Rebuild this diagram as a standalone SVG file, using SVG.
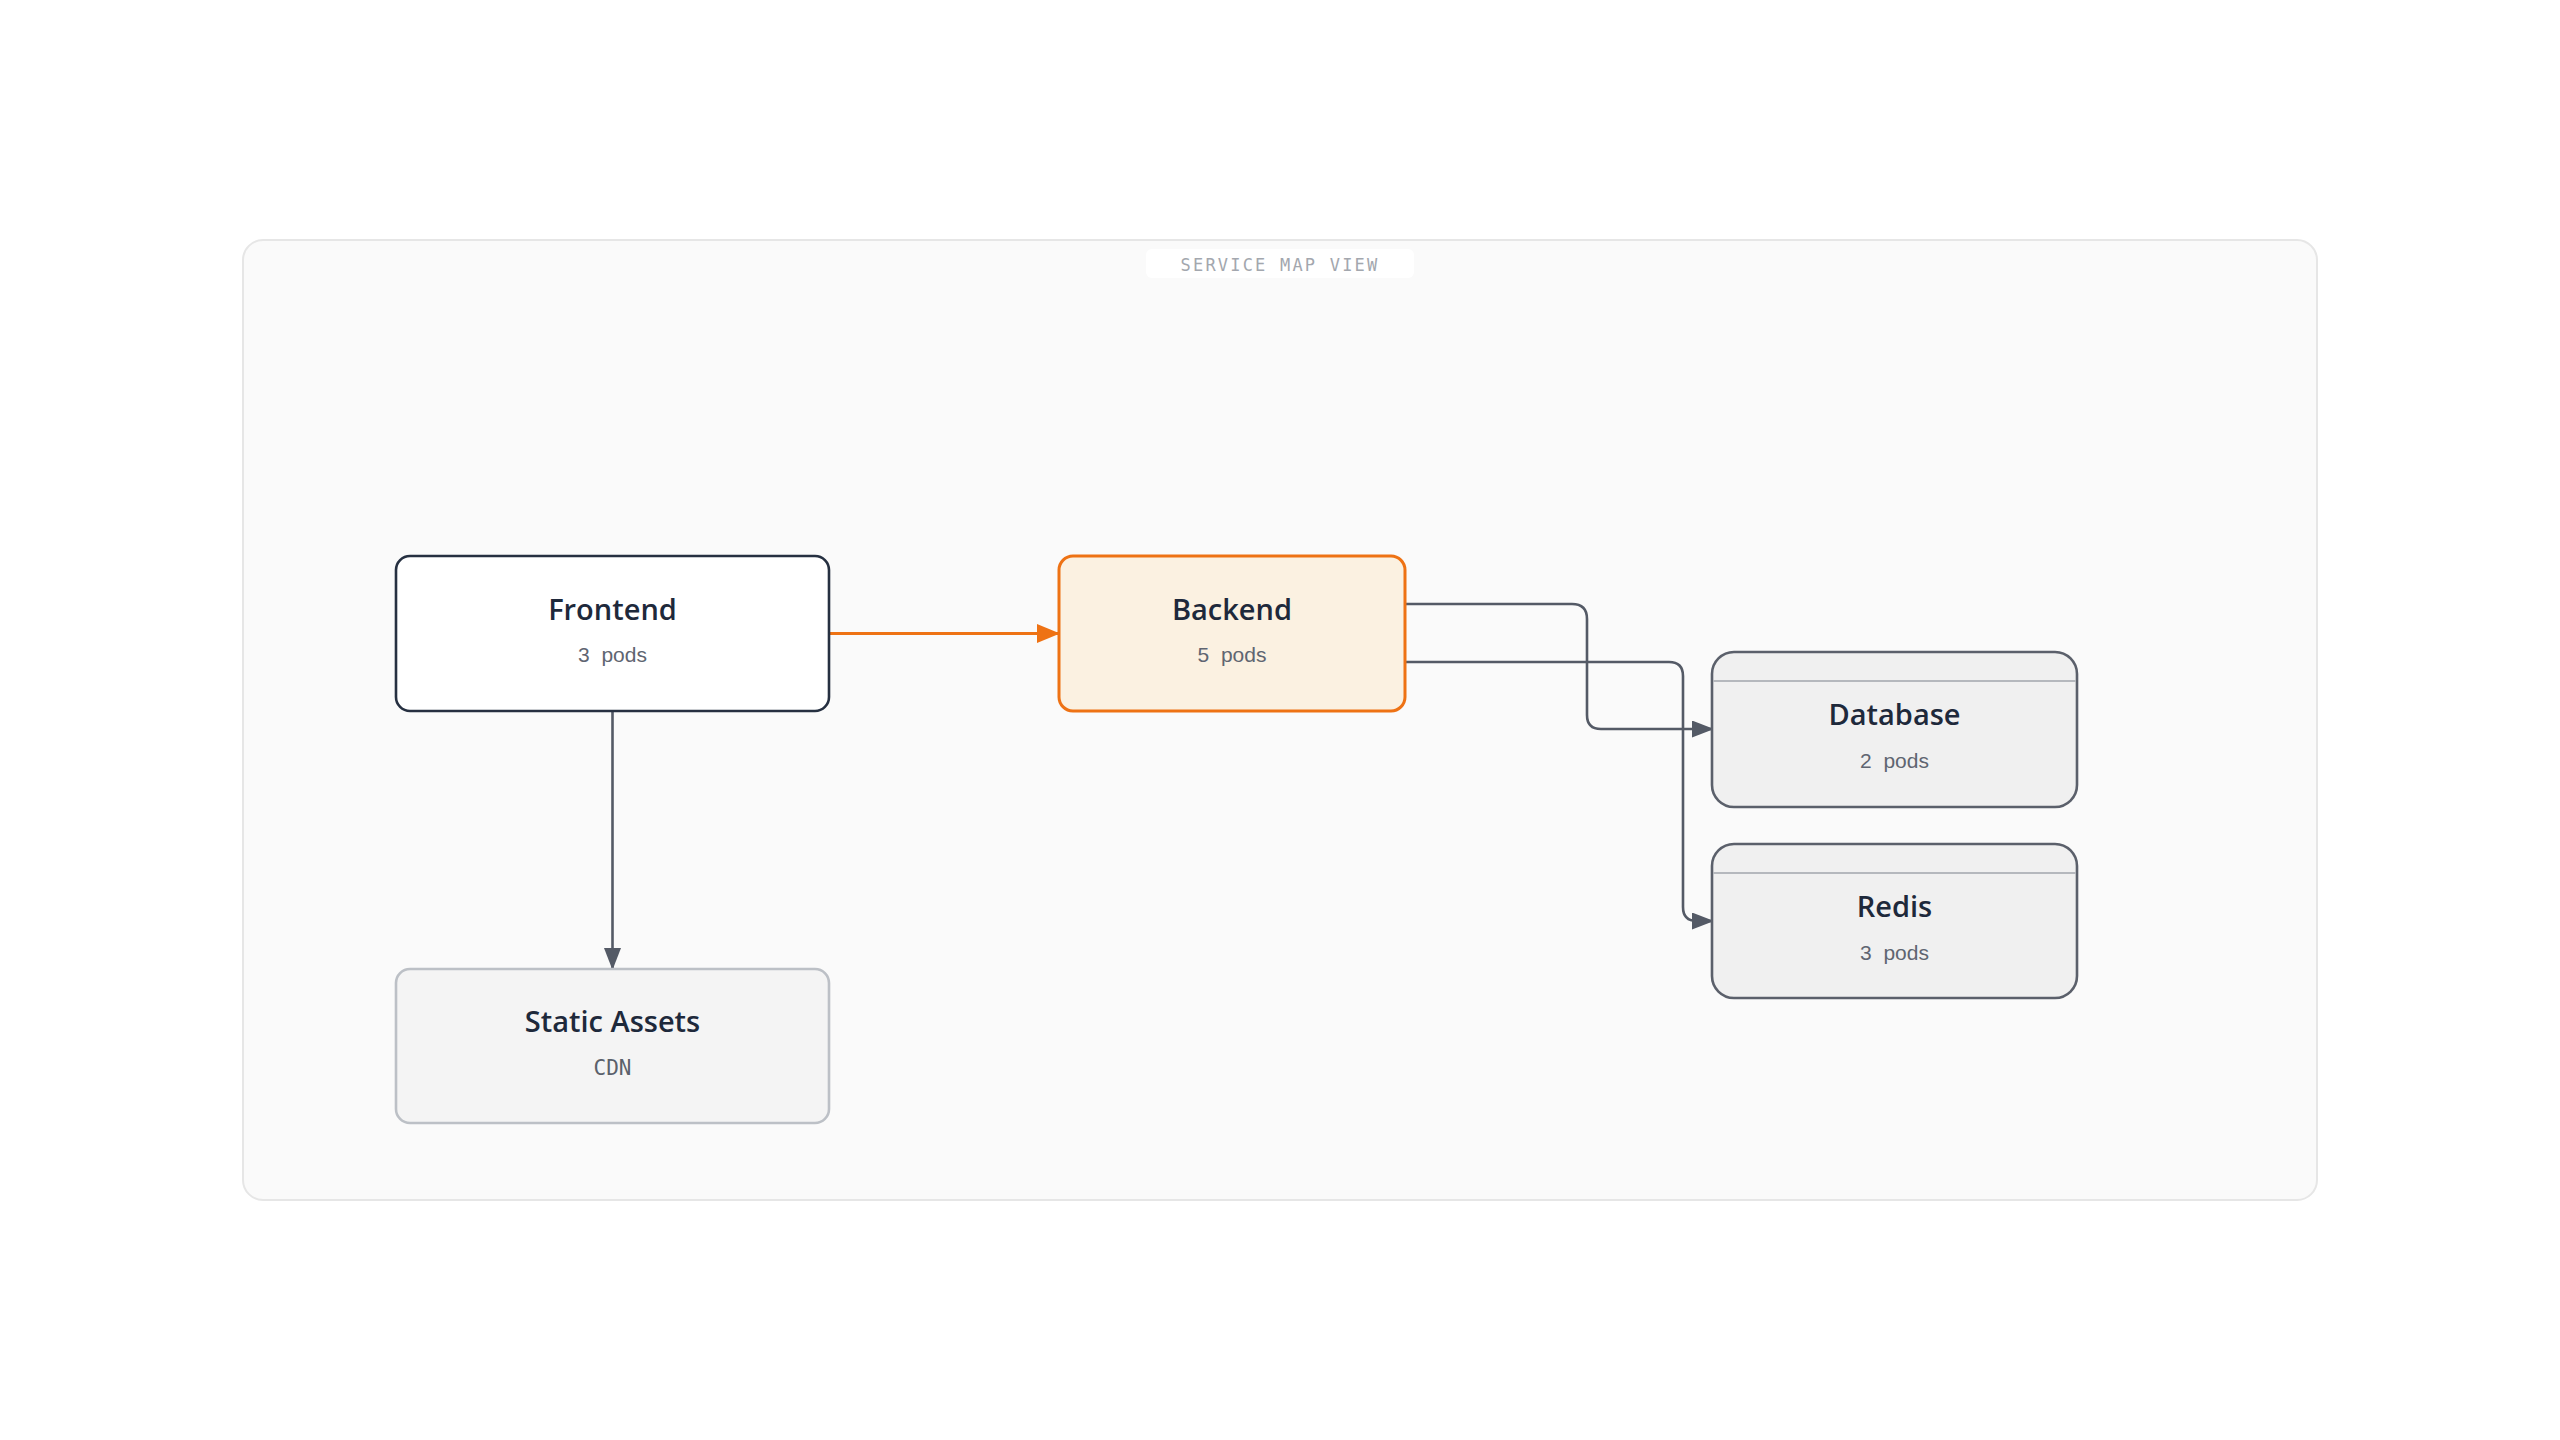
<svg xmlns="http://www.w3.org/2000/svg" width="2560" height="1440" viewBox="0 0 2560 1440">
  <defs>
    <marker id="arrGray" markerUnits="userSpaceOnUse" markerWidth="22" markerHeight="17" refX="21" refY="8.5" orient="auto">
      <path d="M0,0 L22,8.5 L0,17 z" fill="#545a66"/>
    </marker>
    <marker id="arrOrange" markerUnits="userSpaceOnUse" markerWidth="23" markerHeight="19" refX="22" refY="9.5" orient="auto">
      <path d="M0,0 L23,9.5 L0,19 z" fill="#ee7214"/>
    </marker>
    <style>
      .title { font-family: "Open Sans", "Noto Sans", sans-serif; font-weight: 650; font-size: 29px; fill: #1e293b; text-anchor: middle; }
      .sub { font-family: "Liberation Sans", Arial, sans-serif; font-size: 21px; fill: #5f6571; text-anchor: middle; white-space: pre; }
      .mono { font-family: "DejaVu Sans Mono", "Liberation Mono", monospace; font-size: 21px; fill: #5b616b; text-anchor: middle; }
      .conn { fill: none; stroke: #545a66; stroke-width: 2.6; }
      .store { fill: #f0f0f0; stroke: #5b606b; stroke-width: 2.6; }
      .hdr { stroke: #b5b8bd; stroke-width: 2; }
    </style>
  </defs>
  <rect width="2560" height="1440" fill="#ffffff"/>

  <g id="container">
    <rect x="243" y="240" width="2074" height="960" rx="20" fill="#fafafa" stroke="#e6e6e6" stroke-width="2"/>
    <rect x="1146" y="249" width="268" height="29" rx="6" fill="#ffffff"/>
    <text x="1280" y="271" font-family="'DejaVu Sans Mono', 'Liberation Mono', monospace" font-size="17" letter-spacing="2.2" fill="#a3a7ae" text-anchor="middle">SERVICE MAP VIEW</text>
  </g>

  <g id="connectors">
    <path class="conn" d="M612.5,711 V969" marker-end="url(#arrGray)"/>
    <path d="M829,633.5 H1059" fill="none" stroke="#ee7214" stroke-width="3.2" marker-end="url(#arrOrange)"/>
    <path class="conn" d="M1405,604 H1572 Q1587,604 1587,619 V715 Q1587,729 1601,729 H1713" marker-end="url(#arrGray)"/>
    <path class="conn" d="M1405,662 H1669 Q1683,662 1683,676 V907 Q1683,921 1697,921 H1713" marker-end="url(#arrGray)"/>
  </g>

  <g id="frontend">
    <rect x="396" y="556" width="433" height="155" rx="14" fill="#ffffff" stroke="#263041" stroke-width="2.6"/>
    <text class="title" x="612.5" y="620">Frontend</text>
    <text class="sub" x="612.5" y="662">3  pods</text>
  </g>

  <g id="backend">
    <rect x="1059" y="556" width="346" height="155" rx="14" fill="#fbf1e1" stroke="#ee7214" stroke-width="3"/>
    <text class="title" x="1232" y="620">Backend</text>
    <text class="sub" x="1232" y="662">5  pods</text>
  </g>

  <g id="database">
    <rect class="store" x="1712" y="652" width="365" height="155" rx="22"/>
    <line class="hdr" x1="1713" y1="681" x2="2076" y2="681"/>
    <text class="title" x="1894.5" y="725">Database</text>
    <text class="sub" x="1894.5" y="768">2  pods</text>
  </g>

  <g id="redis">
    <rect class="store" x="1712" y="844" width="365" height="154" rx="22"/>
    <line class="hdr" x1="1713" y1="873" x2="2076" y2="873"/>
    <text class="title" x="1894.5" y="917">Redis</text>
    <text class="sub" x="1894.5" y="960">3  pods</text>
  </g>

  <g id="static-assets">
    <rect x="396" y="969" width="433" height="154" rx="14" fill="#f4f4f4" stroke="#bcc0c6" stroke-width="2.6"/>
    <text class="title" x="612.5" y="1032">Static Assets</text>
    <text class="mono" x="612.5" y="1075">CDN</text>
  </g>
</svg>
